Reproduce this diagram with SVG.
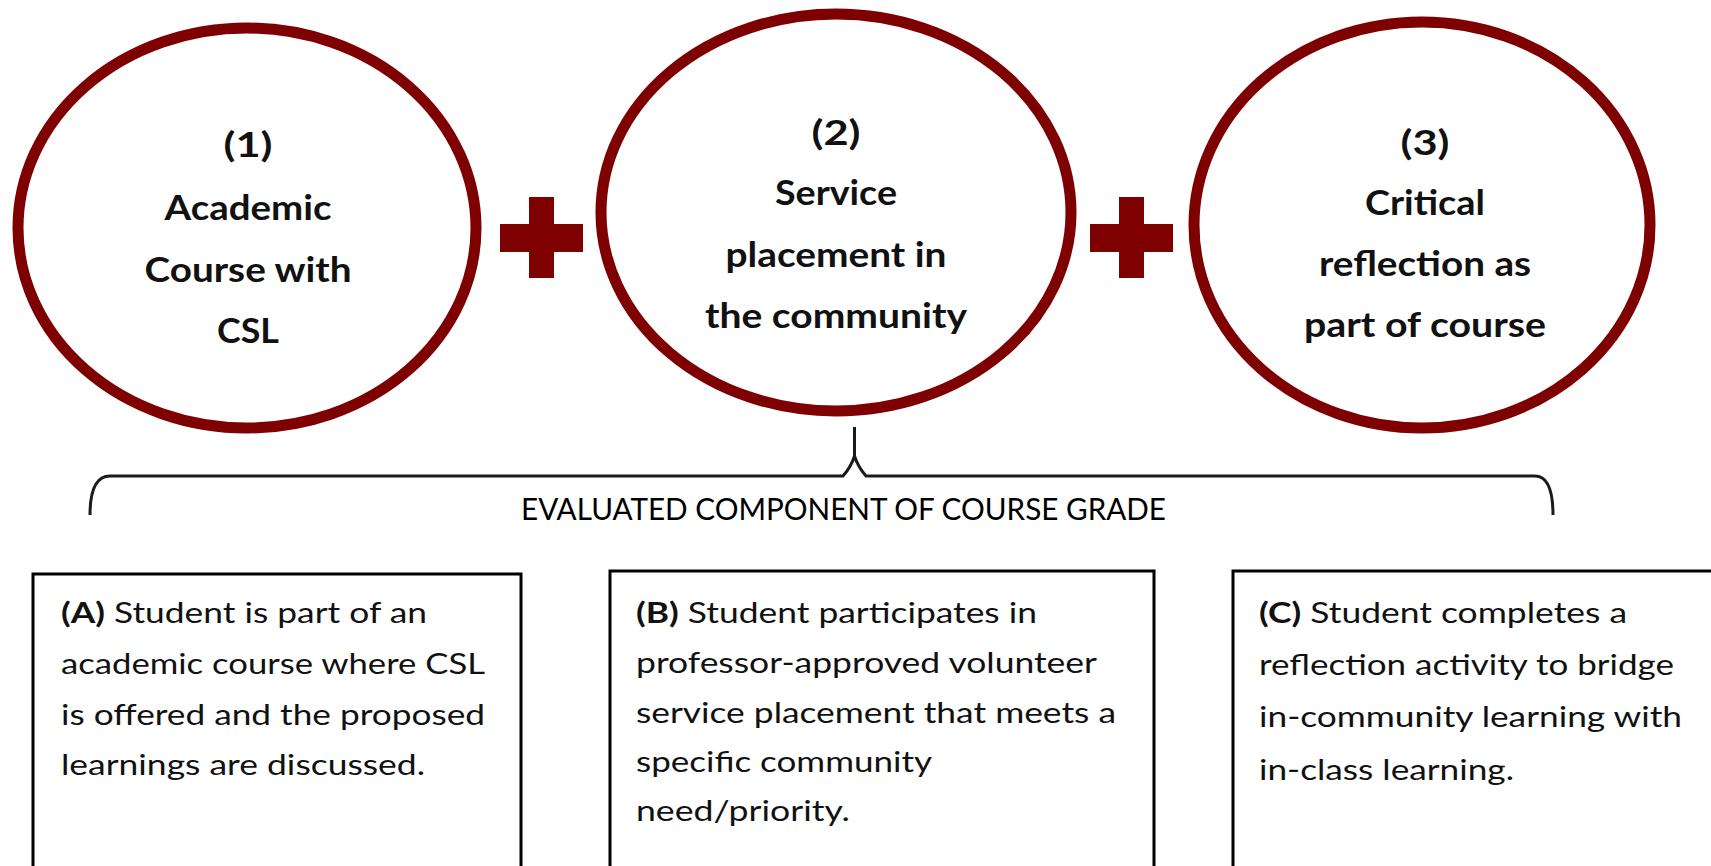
<svg xmlns="http://www.w3.org/2000/svg" width="1711" height="866" viewBox="0 0 1711 866">
<style>
.circ{fill:#fff;stroke:#7f0000;stroke-width:11}
.plus{fill:#7f0000}
.t{font-family:Lato,"Open Sans",sans-serif;font-weight:bold;font-size:35px;fill:#111;text-anchor:middle}
.lbl{font-family:Lato,"Open Sans",sans-serif;font-size:30px;fill:#000;text-anchor:middle}
.box{fill:#fff;stroke:#000;stroke-width:3}
.b{font-family:Lato,"Open Sans",sans-serif;font-size:29px;fill:#111}
.b tspan.k{font-weight:bold}
.brace{fill:none;stroke:#1a1a1a;stroke-width:3;stroke-linejoin:miter}
</style>
<rect width="1711" height="866" fill="#fff"/>
<g id="node1">
<ellipse class="circ" cx="247" cy="228" rx="229" ry="200"/>
<text class="t" x="248" y="157" textLength="49" lengthAdjust="spacingAndGlyphs">(1)</text>
<text class="t" x="248" y="220" textLength="167" lengthAdjust="spacingAndGlyphs">Academic</text>
<text class="t" x="248" y="282" textLength="207" lengthAdjust="spacingAndGlyphs">Course with</text>
<text class="t" x="248" y="343" textLength="62" lengthAdjust="spacingAndGlyphs">CSL</text>
</g>
<g id="plus1">
<rect class="plus" x="529" y="197" width="25" height="81"/>
<rect class="plus" x="500" y="224" width="83" height="28"/>
</g>
<g id="node2">
<ellipse class="circ" cx="836" cy="212.5" rx="235" ry="198.5"/>
<text class="t" x="836" y="145" textLength="49" lengthAdjust="spacingAndGlyphs">(2)</text>
<text class="t" x="836" y="205" textLength="122" lengthAdjust="spacingAndGlyphs">Service</text>
<text class="t" x="836" y="267" textLength="221" lengthAdjust="spacingAndGlyphs">placement in</text>
<text class="t" x="836" y="328" textLength="262" lengthAdjust="spacingAndGlyphs">the community</text>
</g>
<g id="plus2">
<rect class="plus" x="1119" y="197" width="25" height="81"/>
<rect class="plus" x="1090" y="224" width="83" height="28"/>
</g>
<g id="node3">
<ellipse class="circ" cx="1422" cy="225" rx="228" ry="203"/>
<text class="t" x="1425" y="155" textLength="49" lengthAdjust="spacingAndGlyphs">(3)</text>
<text class="t" x="1425" y="215" textLength="120" lengthAdjust="spacingAndGlyphs">Critical</text>
<text class="t" x="1425" y="276" textLength="212" lengthAdjust="spacingAndGlyphs">reflection as</text>
<text class="t" x="1425" y="337" textLength="242" lengthAdjust="spacingAndGlyphs">part of course</text>
</g>
<g id="connectors">
<path class="brace" d="M90 515 C90 492 95 476 110 476 L843 476 Q851 467 854.5 456 L854.5 427 M854.5 456 Q858 467 866 476 L1535 476 C1548 476 1553 492 1553 515"/>
</g>
<g id="label">
<text class="lbl" x="843.5" y="520" textLength="645" lengthAdjust="spacingAndGlyphs">EVALUATED COMPONENT OF COURSE GRADE</text>
</g>
<g id="boxA">
<rect class="box" x="33" y="574" width="488" height="320"/>
<text class="b" x="61" y="623" textLength="366" lengthAdjust="spacingAndGlyphs"><tspan class="k">(A)</tspan> Student is part of an</text>
<text class="b" x="61" y="674" textLength="424" lengthAdjust="spacingAndGlyphs">academic course where CSL</text>
<text class="b" x="61" y="725" textLength="424" lengthAdjust="spacingAndGlyphs">is offered and the proposed</text>
<text class="b" x="61" y="775" textLength="364" lengthAdjust="spacingAndGlyphs">learnings are discussed.</text>
</g>
<g id="boxB">
<rect class="box" x="610" y="571" width="544" height="320"/>
<text class="b" x="636" y="623" textLength="401" lengthAdjust="spacingAndGlyphs"><tspan class="k">(B)</tspan> Student participates in</text>
<text class="b" x="636" y="673" textLength="461" lengthAdjust="spacingAndGlyphs">professor-approved volunteer</text>
<text class="b" x="636" y="723" textLength="480" lengthAdjust="spacingAndGlyphs">service placement that meets a</text>
<text class="b" x="636" y="772" textLength="296" lengthAdjust="spacingAndGlyphs">specific community</text>
<text class="b" x="636" y="821" textLength="214" lengthAdjust="spacingAndGlyphs">need/priority.</text>
</g>
<g id="boxC">
<rect class="box" x="1233" y="571" width="490" height="320"/>
<text class="b" x="1259" y="623" textLength="368" lengthAdjust="spacingAndGlyphs"><tspan class="k">(C)</tspan> Student completes a</text>
<text class="b" x="1259" y="675" textLength="415" lengthAdjust="spacingAndGlyphs">reflection activity to bridge</text>
<text class="b" x="1259" y="727" textLength="423" lengthAdjust="spacingAndGlyphs">in-community learning with</text>
<text class="b" x="1259" y="780" textLength="255" lengthAdjust="spacingAndGlyphs">in-class learning.</text>
</g>
</svg>
